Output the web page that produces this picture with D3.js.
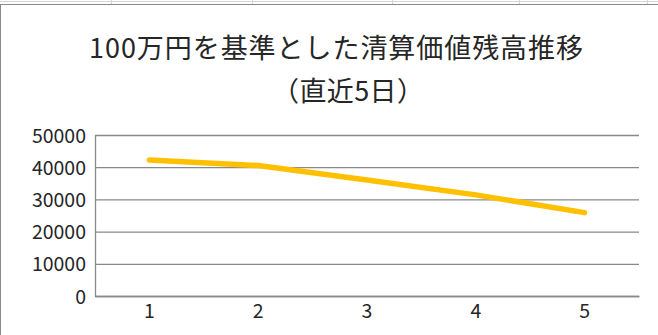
<!DOCTYPE html>
<html>
<head>
<meta charset="utf-8">
<script src="https://cdn.jsdelivr.net/npm/d3@7"></script>
<style>
  body { margin: 0; background: #fff; }
  svg text { font-family: "Noto Sans CJK JP", "Noto Sans", sans-serif; fill: #262626; }
  .grid line { stroke: #898989; stroke-width: 1.3; }
  .grid path { stroke: #898989; stroke-width: 1.3; }
</style>
</head>
<body>
<div id="chart"></div>
<script>
// chart data
const days = [1, 2, 3, 4, 5];
const balances = [42250, 40500, 36000, 31400, 25900];
const yTicks = [0, 10000, 20000, 30000, 40000, 50000];
const titleLines = ["100万円を基準とした清算価値残高推移", "（直近5日）"];

const width = 658,
    height = 335,
    margin = ({ top: 135, right: 19, bottom: 39, left: 95 });

const svg = d3.select("#chart")
    .append("svg")
    .attr("width", width)
    .attr("height", height);

// spreadsheet cells peeking above the chart object
svg.append("line")
    .attr("x1", 0).attr("x2", width)
    .attr("y1", 1.5).attr("y2", 1.5)
    .attr("stroke", "#d4d4d4");
svg.selectAll(".cell")
    .data([111, 252, 392, 519, 647])
    .join("line")
    .attr("x1", d => d + 0.5).attr("x2", d => d + 0.5)
    .attr("y1", 0).attr("y2", 4)
    .attr("stroke", "#d4d4d4");

// chart area border
svg.append("rect")
    .attr("x", 0.5).attr("y", 4.5)
    .attr("width", width + 5).attr("height", height)
    .attr("fill", "#fff")
    .attr("stroke", "#8a8a8a");

const x = d3.scaleBand()
    .domain(days)
    .range([margin.left, width - margin.right]);

const y = d3.scaleLinear()
    .domain([0, 50000])
    .range([height - margin.bottom, margin.top]);

// y axis with gridlines
const yAxis = svg.append("g")
    .attr("class", "grid")
    .attr("transform", `translate(${margin.left},0)`)
    .call(d3.axisLeft(y).tickValues(yTicks).tickFormat(d3.format("d"))
        .tickSize(-(width - margin.left - margin.right)).tickSizeOuter(0).tickPadding(9));
yAxis.selectAll("text").attr("font-size", 19.5).attr("dy", "0.36em");

// x axis
const xAxis = svg.append("g")
    .attr("class", "grid")
    .attr("transform", `translate(0,${height - margin.bottom})`)
    .call(d3.axisBottom(x).tickSize(0).tickPadding(8));
xAxis.selectAll("text").attr("font-size", 19.5);

// the line
const line = d3.line()
    .x(d => x(d.day) + x.bandwidth() / 2)
    .y(d => y(d.value));

svg.append("path")
    .datum(days.map((d, i) => ({ day: d, value: balances[i] })))
    .attr("d", line)
    .attr("fill", "none")
    .attr("stroke", "#ffc000")
    .attr("stroke-width", 5.5)
    .attr("stroke-linecap", "round")
    .attr("stroke-linejoin", "round");

// title
svg.append("text")
    .attr("x", 89)
    .attr("y", 58)
    .attr("font-size", 27)
    .attr("textLength", 494)
    .attr("lengthAdjust", "spacing")
    .text(titleLines[0]);

svg.append("text")
    .attr("x", 272)
    .attr("y", 101)
    .attr("font-size", 27)
    .attr("textLength", 152)
    .attr("lengthAdjust", "spacing")
    .text(titleLines[1]);
</script>
</body>
</html>
